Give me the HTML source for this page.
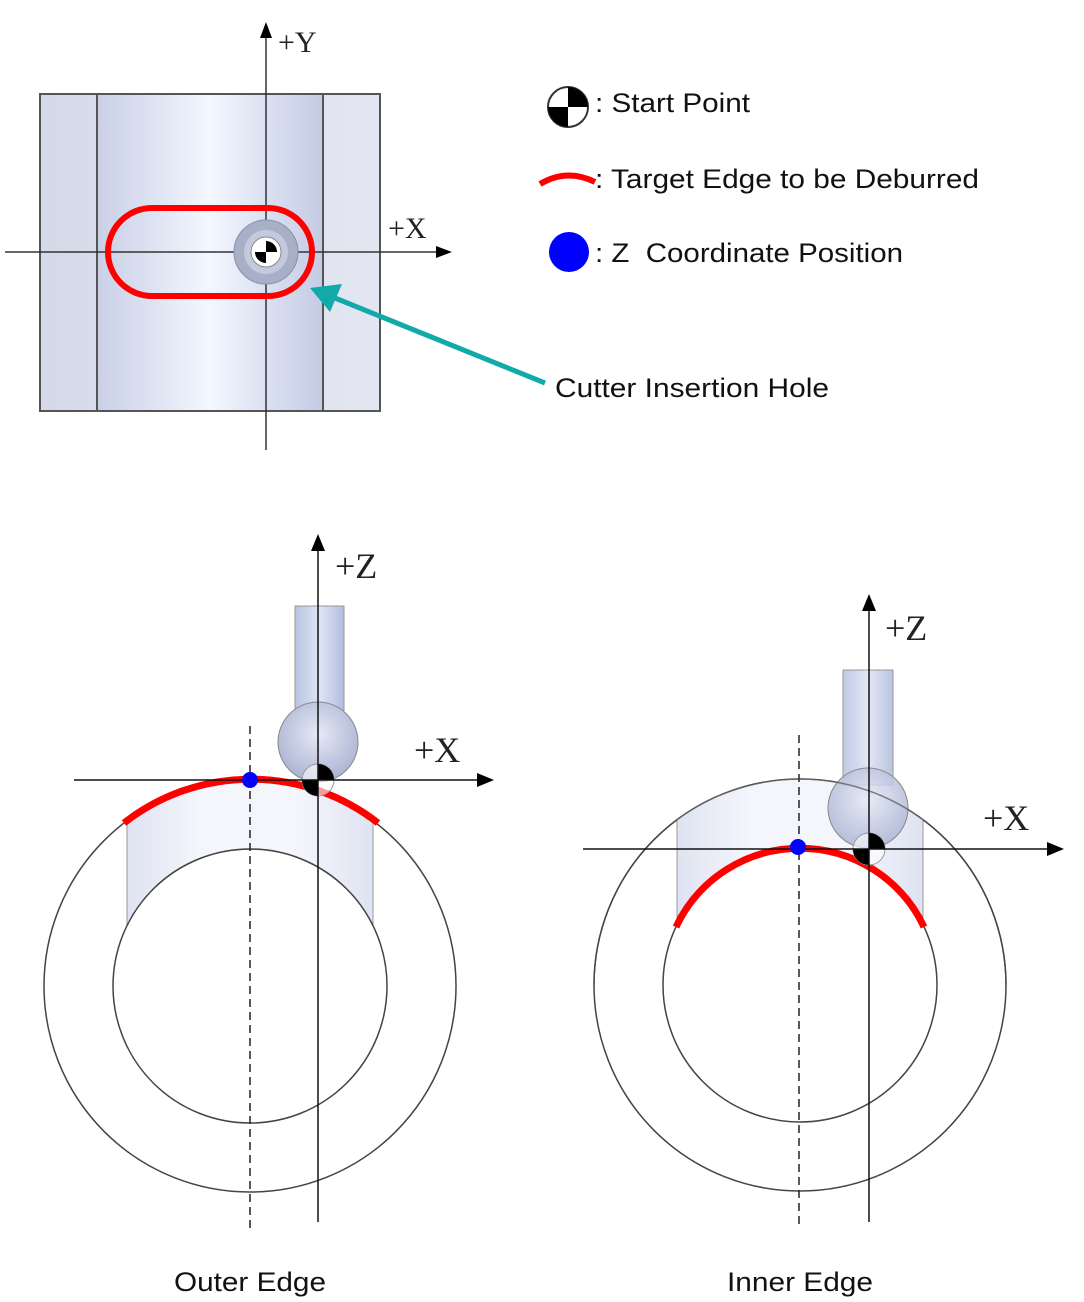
<!DOCTYPE html>
<html><head><meta charset="utf-8"><style>
body{margin:0;background:#fff;}
svg{display:block;}
text{font-family:"Liberation Sans",sans-serif;fill:#111;}
.ax{font-family:"Liberation Serif",serif;fill:#222;}
</style></head><body>
<svg width="1084" height="1302" viewBox="0 0 1084 1302" xmlns="http://www.w3.org/2000/svg">
<defs>
<linearGradient id="cyl" x1="0" x2="1" y1="0" y2="0">
<stop offset="0" stop-color="#c9cfe6"/><stop offset="0.5" stop-color="#f3f7ff"/><stop offset="1" stop-color="#c4cbe4"/>
</linearGradient>
<linearGradient id="side" x1="0" x2="1"><stop offset="0" stop-color="#d5d9e8"/><stop offset="1" stop-color="#e4e7f2"/></linearGradient>
<linearGradient id="band" x1="0" x2="1"><stop offset="0" stop-color="#dfe3f1"/><stop offset="0.3" stop-color="#f4f6fc"/><stop offset="0.7" stop-color="#f4f6fc"/><stop offset="1" stop-color="#dfe3f1"/></linearGradient>
<linearGradient id="shank" x1="0" x2="1"><stop offset="0" stop-color="#b9c2e0"/><stop offset="0.5" stop-color="#dfe5f6"/><stop offset="1" stop-color="#b3bcdc"/></linearGradient>
<radialGradient id="ball" cx="0.5" cy="0.4" r="0.6"><stop offset="0" stop-color="#e6eaf6"/><stop offset="1" stop-color="#aab3d3"/></radialGradient>
</defs>

<!-- TOP VIEW -->
<rect x="40" y="94" width="340" height="317" fill="url(#side)" stroke="#555" stroke-width="2"/>
<rect x="97" y="94" width="226" height="317" fill="url(#cyl)" stroke="#555" stroke-width="2"/>
<line x1="266" y1="30" x2="266" y2="450" stroke="#333" stroke-width="1.5"/>
<path d="M266,22 L260,38 L272,38 z" fill="#000"/>
<line x1="5" y1="252" x2="440" y2="252" stroke="#333" stroke-width="1.5"/>
<path d="M452,252 L436,246 L436,258 z" fill="#000"/>
<text class="ax" x="278" y="52" font-size="30">+Y</text>
<text class="ax" x="388" y="238" font-size="30">+X</text>
<rect x="108" y="208" width="204" height="88" rx="44" fill="none" stroke="#f00" stroke-width="6"/>
<circle cx="266" cy="252" r="32" fill="#a8b0c8" stroke="#8890aa"/>
<circle cx="266" cy="252" r="22" fill="#c4cade"/>
<circle cx="266" cy="252" r="15" fill="#fff" stroke="#888"/>
<path d="M266,252 L266,241 A11,11 0 0 1 277,252 z M266,252 L266,263 A11,11 0 0 1 255,252 z" fill="#000"/>
<line x1="545" y1="383" x2="335" y2="298" stroke="#10aaa8" stroke-width="5"/>
<path d="M310,288 L342,284 L330,312 z" fill="#10aaa8"/>
<text x="555" y="397" font-size="27" textLength="274" lengthAdjust="spacingAndGlyphs">Cutter Insertion Hole</text>

<!-- LEGEND -->
<circle cx="568" cy="107" r="20" fill="#fff" stroke="#333" stroke-width="2"/>
<path d="M568,107 L568,87 A20,20 0 0 1 588,107 z M568,107 L568,127 A20,20 0 0 1 548,107 z" fill="#000"/>
<text x="595" y="112" font-size="27" textLength="155" lengthAdjust="spacingAndGlyphs">: Start Point</text>
<path d="M540,184 Q567,168 595,182" fill="none" stroke="#f00" stroke-width="6"/>
<text x="595" y="188" font-size="27" textLength="384" lengthAdjust="spacingAndGlyphs">: Target Edge to be Deburred</text>
<circle cx="569" cy="252" r="20" fill="#00f"/>
<text x="595" y="262" font-size="27" textLength="308" lengthAdjust="spacingAndGlyphs">: Z&#160; Coordinate Position</text>

<!-- LEFT: OUTER EDGE -->
<circle cx="250" cy="986" r="206" fill="none" stroke="#444" stroke-width="1.5"/>
<path d="M127,821 A206,206 0 0 1 373,821 L373,926 A137,137 0 0 0 127,926 z" fill="url(#band)" stroke="#999" stroke-width="1"/>
<circle cx="250" cy="986" r="137" fill="none" stroke="#444" stroke-width="1.5"/>
<path d="M124,823 A206,206 0 0 1 378,823" fill="none" stroke="#f00" stroke-width="7"/>
<line x1="250" y1="726" x2="250" y2="1228" stroke="#222" stroke-width="1.5" stroke-dasharray="8,5"/>
<rect x="295" y="606" width="49" height="110" fill="url(#shank)" stroke="#999"/>
<circle cx="318" cy="742" r="40" fill="url(#ball)" stroke="#888"/>
<circle cx="318" cy="780" r="16" fill="#fff" fill-opacity="0.6" stroke="#999"/>
<path d="M318,780 L318,764 A16,16 0 0 1 334,780 z M318,780 L318,796 A16,16 0 0 1 302,780 z" fill="#000"/>
<line x1="74" y1="780" x2="480" y2="780" stroke="#111" stroke-width="1.5"/>
<path d="M494,780 L477,773 L477,787 z" fill="#000"/>
<line x1="318" y1="548" x2="318" y2="1222" stroke="#111" stroke-width="1.5"/>
<path d="M318,534 L311,551 L325,551 z" fill="#000"/>
<circle cx="250" cy="780" r="8" fill="#00f"/>
<text class="ax" x="335" y="578" font-size="36">+Z</text>
<text class="ax" x="414" y="762" font-size="36">+X</text>
<text x="174" y="1291" font-size="27" textLength="152" lengthAdjust="spacingAndGlyphs">Outer Edge</text>

<!-- RIGHT: INNER EDGE -->
<circle cx="800" cy="985" r="206" fill="none" stroke="#444" stroke-width="1.5"/>
<path d="M677,820 A206,206 0 0 1 923,820 L923,925 A137,137 0 0 0 677,925 z" fill="url(#band)" stroke="#999" stroke-width="1"/>
<circle cx="800" cy="985" r="137" fill="none" stroke="#444" stroke-width="1.5"/>
<path d="M676,927 A137,137 0 0 1 924,927" fill="none" stroke="#f00" stroke-width="7"/>
<line x1="799" y1="735" x2="799" y2="1228" stroke="#222" stroke-width="1.5" stroke-dasharray="8,5"/>
<rect x="843" y="670" width="50" height="115" fill="url(#shank)" stroke="#999" fill-opacity="0.9"/>
<circle cx="868" cy="808" r="40" fill="url(#ball)" stroke="#888" fill-opacity="0.85"/>
<path d="M594,985 A206,206 0 0 1 1006,985" fill="none" stroke="#444" stroke-width="1.5" opacity="0.6"/>
<circle cx="869" cy="849" r="16" fill="#fff" fill-opacity="0.6" stroke="#999"/>
<path d="M869,849 L869,833 A16,16 0 0 1 885,849 z M869,849 L869,865 A16,16 0 0 1 853,849 z" fill="#000"/>
<line x1="583" y1="849" x2="1050" y2="849" stroke="#111" stroke-width="1.5"/>
<path d="M1064,849 L1047,842 L1047,856 z" fill="#000"/>
<line x1="869" y1="608" x2="869" y2="1222" stroke="#111" stroke-width="1.5"/>
<path d="M869,594 L862,611 L876,611 z" fill="#000"/>
<circle cx="798" cy="847" r="8" fill="#00f"/>
<text class="ax" x="885" y="640" font-size="36">+Z</text>
<text class="ax" x="983" y="830" font-size="36">+X</text>
<text x="727" y="1291" font-size="27" textLength="146" lengthAdjust="spacingAndGlyphs">Inner Edge</text>
</svg>
</body></html>
